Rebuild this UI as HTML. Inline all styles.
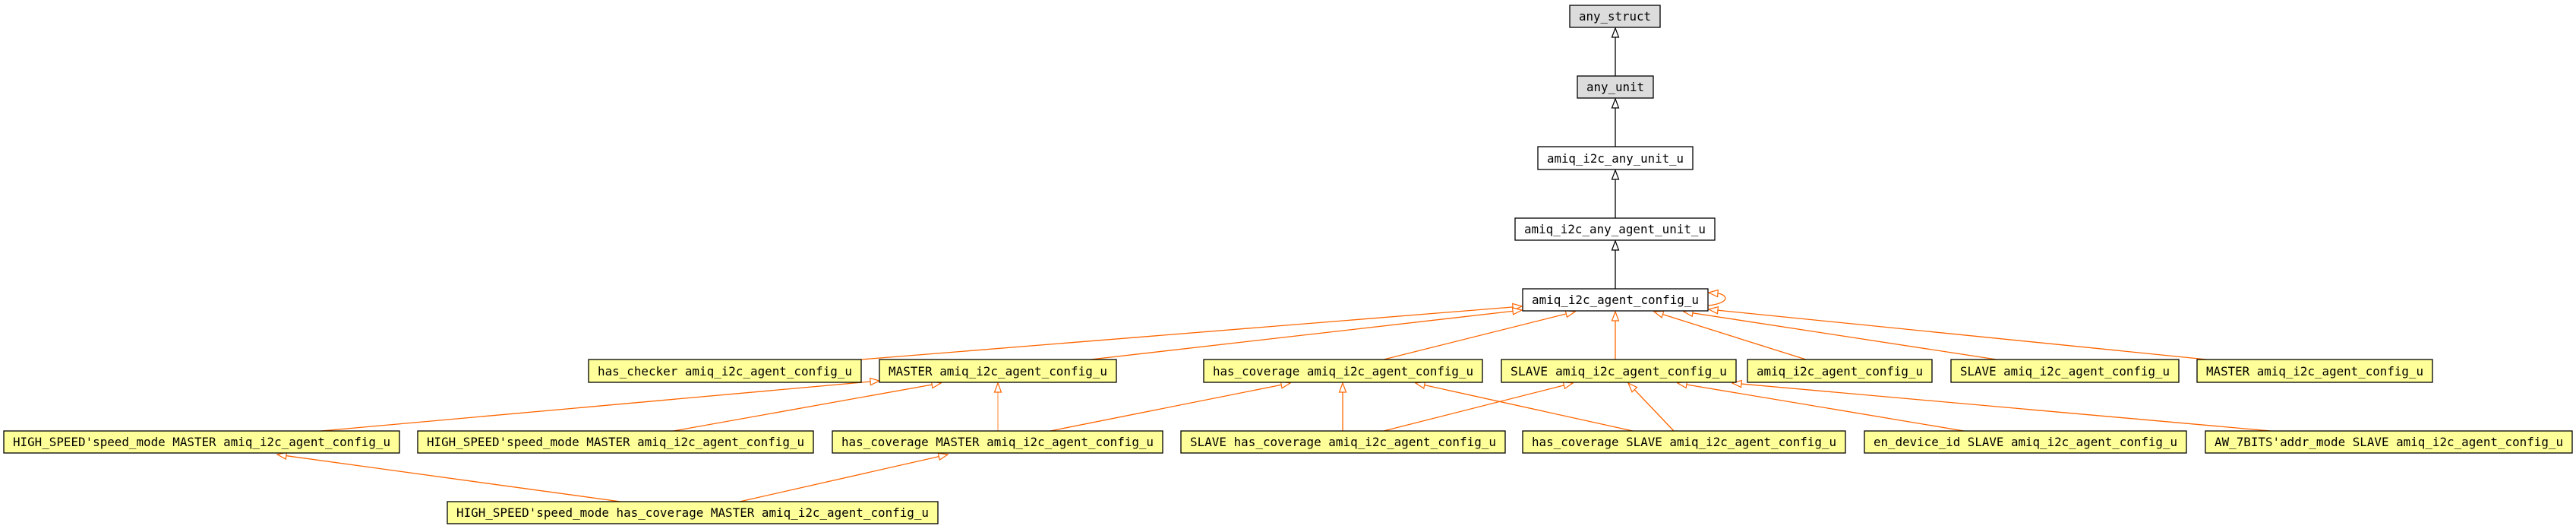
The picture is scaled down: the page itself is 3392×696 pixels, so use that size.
<!DOCTYPE html>
<html><head><meta charset="utf-8"><style>
html,body{margin:0;padding:0;background:#fff;}
svg{display:block;}
text{font-family:"DejaVu Sans Mono","Liberation Mono",monospace;font-size:16px;fill:#000;}
</style></head><body>
<svg width="3392" height="696" viewBox="0 0 3392 696" xmlns="http://www.w3.org/2000/svg">
<defs>
<marker id="ab" markerWidth="14" markerHeight="12" refX="13" refY="6" orient="auto" markerUnits="userSpaceOnUse">
<path d="M1,1.5 L13,6 L1,10.5 Z" fill="#fff" stroke="#000" stroke-width="1.2"/></marker>
<marker id="ao" markerWidth="14" markerHeight="12" refX="13" refY="6" orient="auto" markerUnits="userSpaceOnUse">
<path d="M1,1.5 L13,6 L1,10.5 Z" fill="#fff" stroke="#ff6600" stroke-width="1.2"/></marker>
</defs>
<g stroke="#000" stroke-width="1.3" fill="none">
<line x1="2127" y1="100" x2="2127" y2="37" marker-end="url(#ab)"/>
<line x1="2127" y1="193" x2="2127" y2="130" marker-end="url(#ab)"/>
<line x1="2127" y1="287" x2="2127" y2="224" marker-end="url(#ab)"/>
<line x1="2127" y1="380" x2="2127" y2="317" marker-end="url(#ab)"/>
</g>
<g stroke="#ff6600" stroke-width="1.3" fill="none">
<line x1="1134" y1="473" x2="2004" y2="403" marker-end="url(#ao)"/>
<line x1="1436" y1="473" x2="2004" y2="408" marker-end="url(#ao)"/>
<line x1="1822" y1="473" x2="2074" y2="410" marker-end="url(#ao)"/>
<line x1="2127" y1="473" x2="2127" y2="410" marker-end="url(#ao)"/>
<line x1="2378" y1="473" x2="2178" y2="410" marker-end="url(#ao)"/>
<line x1="2629" y1="473" x2="2217" y2="410" marker-end="url(#ao)"/>
<line x1="2906" y1="473" x2="2250" y2="407" marker-end="url(#ao)"/>
<path d="M2249,402 C2268,400 2276,394 2270,389 C2266,386 2262,386 2260,386"/>
<line x1="2262" y1="386" x2="2250" y2="385" marker-end="url(#ao)"/>
<line x1="423" y1="567" x2="1158" y2="501" marker-end="url(#ao)"/>
<line x1="887" y1="567" x2="1239" y2="504" marker-end="url(#ao)"/>
<line x1="1314" y1="567" x2="1314" y2="504" marker-end="url(#ao)" stroke-width="0.8"/>
<line x1="1383" y1="567" x2="1699" y2="504" marker-end="url(#ao)"/>
<line x1="1768" y1="567" x2="1768" y2="504" marker-end="url(#ao)"/>
<line x1="1822" y1="567" x2="2071" y2="504" marker-end="url(#ao)"/>
<line x1="2150" y1="567" x2="1864" y2="504" marker-end="url(#ao)"/>
<line x1="2204" y1="567" x2="2144" y2="504" marker-end="url(#ao)"/>
<line x1="2586" y1="567" x2="2209" y2="504" marker-end="url(#ao)"/>
<line x1="2990" y1="567" x2="2281" y2="504" marker-end="url(#ao)"/>
<line x1="817" y1="660" x2="365" y2="598" marker-end="url(#ao)"/>
<line x1="974" y1="660" x2="1248" y2="598" marker-end="url(#ao)"/>
</g>
<g stroke="#000" stroke-width="1.3">
<rect x="2067" y="7" width="119" height="29" fill="#dcdcdc"/>
<rect x="2077" y="100" width="100" height="29" fill="#dcdcdc"/>
<rect x="2025" y="193" width="204" height="30" fill="#fff"/>
<rect x="1995" y="287" width="263" height="29" fill="#fff"/>
<rect x="2005" y="380" width="244" height="29" fill="#fff"/>
<g fill="#ffff99">
<rect x="775" y="473" width="359" height="30"/>
<rect x="1158" y="473" width="312" height="30"/>
<rect x="1585" y="473" width="367" height="30"/>
<rect x="1977" y="473" width="309" height="30"/>
<rect x="2301" y="473" width="243" height="30"/>
<rect x="2569" y="473" width="300" height="30"/>
<rect x="2893" y="473" width="310" height="30"/>
<rect x="5" y="567" width="521" height="29"/>
<rect x="550" y="567" width="521" height="29"/>
<rect x="1096" y="567" width="435" height="29"/>
<rect x="1555" y="567" width="427" height="29"/>
<rect x="2005" y="567" width="425" height="29"/>
<rect x="2455" y="567" width="424" height="29"/>
<rect x="2904" y="567" width="483" height="29"/>
<rect x="589" y="660" width="646" height="29"/>
</g>
</g>
<g text-anchor="middle" lengthAdjust="spacingAndGlyphs">
<text x="2126.5" y="27" textLength="95" lengthAdjust="spacingAndGlyphs">any_struct</text>
<text x="2127" y="120" textLength="76" lengthAdjust="spacingAndGlyphs">any_unit</text>
<text x="2127" y="214" textLength="180" lengthAdjust="spacingAndGlyphs">amiq_i2c_any_unit_u</text>
<text x="2126.5" y="307" textLength="239" lengthAdjust="spacingAndGlyphs">amiq_i2c_any_agent_unit_u</text>
<text x="2127" y="400" textLength="220" lengthAdjust="spacingAndGlyphs">amiq_i2c_agent_config_u</text>
<text x="954.5" y="494" textLength="335" lengthAdjust="spacingAndGlyphs">has_checker amiq_i2c_agent_config_u</text>
<text x="1314" y="494" textLength="288" lengthAdjust="spacingAndGlyphs">MASTER amiq_i2c_agent_config_u</text>
<text x="1768.5" y="494" textLength="343" lengthAdjust="spacingAndGlyphs">has_coverage amiq_i2c_agent_config_u</text>
<text x="2131.5" y="494" textLength="285" lengthAdjust="spacingAndGlyphs">SLAVE amiq_i2c_agent_config_u</text>
<text x="2422.5" y="494" textLength="219" lengthAdjust="spacingAndGlyphs">amiq_i2c_agent_config_u</text>
<text x="2719" y="494" textLength="276" lengthAdjust="spacingAndGlyphs">SLAVE amiq_i2c_agent_config_u</text>
<text x="3048" y="494" textLength="286" lengthAdjust="spacingAndGlyphs">MASTER amiq_i2c_agent_config_u</text>
<text x="265.5" y="587" textLength="497" lengthAdjust="spacingAndGlyphs">HIGH_SPEED'speed_mode MASTER amiq_i2c_agent_config_u</text>
<text x="810.5" y="587" textLength="497" lengthAdjust="spacingAndGlyphs">HIGH_SPEED'speed_mode MASTER amiq_i2c_agent_config_u</text>
<text x="1313.5" y="587" textLength="411" lengthAdjust="spacingAndGlyphs">has_coverage MASTER amiq_i2c_agent_config_u</text>
<text x="1768.5" y="587" textLength="403" lengthAdjust="spacingAndGlyphs">SLAVE has_coverage amiq_i2c_agent_config_u</text>
<text x="2217.5" y="587" textLength="401" lengthAdjust="spacingAndGlyphs">has_coverage SLAVE amiq_i2c_agent_config_u</text>
<text x="2667" y="587" textLength="400" lengthAdjust="spacingAndGlyphs">en_device_id SLAVE amiq_i2c_agent_config_u</text>
<text x="3145.5" y="587" textLength="459" lengthAdjust="spacingAndGlyphs">AW_7BITS'addr_mode SLAVE amiq_i2c_agent_config_u</text>
<text x="912" y="680" textLength="622" lengthAdjust="spacingAndGlyphs">HIGH_SPEED'speed_mode has_coverage MASTER amiq_i2c_agent_config_u</text>
</g>
</svg>
</body></html>
